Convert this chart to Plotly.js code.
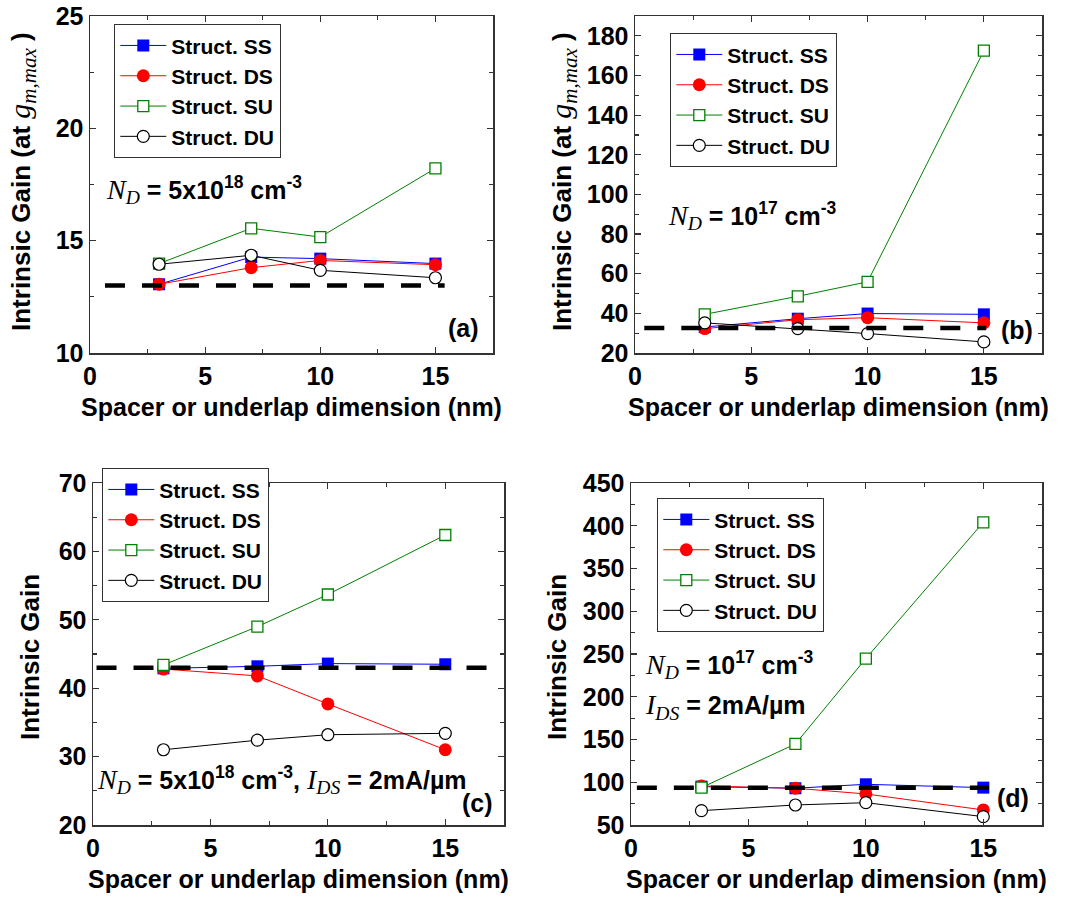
<!DOCTYPE html>
<html>
<head>
<meta charset="utf-8">
<script src="https://cdn.plot.ly/plotly-3.0.1.min.js"></script>
<style>html,body{margin:0;padding:0;background:#fff;}#chart{width:1078px;height:900px;}</style>
</head>
<body>
<div id="chart"></div>
<script>
// ---- data ----
const spacerNm = [3, 7, 10, 15];
const seriesNames = ["Struct. SS", "Struct. DS", "Struct. SU", "Struct. DU"];

// (a) N_D = 5e18, at gm,max
const ssA = [13.06, 14.27, 14.2, 13.98];
const dsA = [13.06, 13.8, 14.12, 13.93];
const suA = [13.98, 15.55, 15.16, 18.22];
const duA = [13.95, 14.35, 13.68, 13.35];
const refA = 13.0;
const refSpanA = [0.65, 15.4];

// (b) N_D = 1e17, at gm,max
const ssB = [33.1, 37.3, 39.9, 39.5];
const dsB = [32.3, 36.8, 37.8, 35.2];
const suB = [39.5, 48.6, 55.9, 172.5];
const duB = [35.2, 32.3, 29.8, 25.6];
const refB = 32.6;
const refSpanB = [0.4, 15.1];

// (c) N_D = 5e18, I_DS = 2mA/um
const ssC = [42.9, 43.2, 43.6, 43.5];
const dsC = [42.8, 41.8, 37.7, 31.0];
const suC = [43.4, 49.0, 53.7, 62.4];
const duC = [31.0, 32.4, 33.2, 33.4];
const refC = 43.0;
const refSpanC = [0.15, 17.0];

// (d) N_D = 1e17, I_DS = 2mA/um
const ssD = [94.9, 93.0, 97.6, 93.7];
const dsD = [95.7, 93.0, 86.3, 67.6];
const suD = [93.7, 144.8, 244.7, 404];
const duD = [66.8, 73.4, 76.1, 59.8];
const refD = 93.7;
const refSpanD = [0.25, 15.25];

const xTicks = [0, 5, 10, 15];
const panelLabels = ["(a)", "(b)", "(c)", "(d)"];
const xTitle = "Spacer or underlap dimension (nm)";

// ---- styles ----
const FONT = "Liberation Sans, Arial, sans-serif";
const SERIF = "Liberation Serif";
const styles = [
  {line: "#0000ff", marker: {symbol: "square", size: 12, color: "#0000ff", line: {width: 0}}},
  {line: "#ff0000", marker: {symbol: "circle", size: 13, color: "#ff0000", line: {width: 0}}},
  {line: "#008000", marker: {symbol: "square", size: 11, color: "#ffffff", line: {width: 1.3, color: "#008000"}}},
  {line: "#000000", marker: {symbol: "circle", size: 12, color: "#ffffff", line: {width: 1.2, color: "#000000"}}}
];

const panels = [
  {sets: [ssA, dsA, suA, duA], ref: refA, span: refSpanA, xa: "x", ya: "y", lg: "legend"},
  {sets: [ssB, dsB, suB, duB], ref: refB, span: refSpanB, xa: "x2", ya: "y2", lg: "legend2"},
  {sets: [ssC, dsC, suC, duC], ref: refC, span: refSpanC, xa: "x3", ya: "y3", lg: "legend3"},
  {sets: [ssD, dsD, suD, duD], ref: refD, span: refSpanD, xa: "x4", ya: "y4", lg: "legend4"}
];

const traces = [];
panels.forEach(p => {
  p.sets.forEach((vals, i) => {
    traces.push({
      type: "scatter", mode: "lines+markers",
      x: spacerNm, y: vals, name: seriesNames[i],
      xaxis: p.xa, yaxis: p.ya, legend: p.lg,
      line: {color: styles[i].line, width: 1},
      marker: styles[i].marker,
      cliponaxis: false
    });
  });
  traces.push({
    type: "scatter", mode: "lines",
    x: p.span, y: [p.ref, p.ref],
    xaxis: p.xa, yaxis: p.ya, showlegend: false,
    line: {color: "#000000", width: 4.5, dash: "20px,17px"},
    hoverinfo: "skip"
  });
});

const W = 1078, H = 900;
function dx(a, b) { return [a / W, b / W]; }
function dy(top, bottom) { return [1 - bottom / H, 1 - top / H]; }

const gmTitle = "Intrinsic Gain (at <span style=\"font-family:'" + SERIF + "';font-weight:normal;font-style:italic;font-size:30px\">g<sub>m,max</sub></span> )";
const plainTitle = "Intrinsic Gain";

function xAxis(domain, anchor) {
  return {
    domain: domain, anchor: anchor, range: [0, 17.5],
    tickvals: xTicks, ticks: "inside", ticklen: 6, tickwidth: 1.2, tickcolor: "#333",
    minor: {dtick: 2.5, tick0: 0, ticks: "inside", ticklen: 4, tickwidth: 1.2, tickcolor: "#333"},
    showline: true, linecolor: "#333", linewidth: 1.5, mirror: "allticks",
    showgrid: false, zeroline: false,
    tickfont: {family: FONT, size: 25, color: "#000", weight: "bold"},
    title: {text: xTitle, font: {family: FONT, size: 25, color: "#000", weight: "bold"}, standoff: 10}
  };
}
function yAxis(domain, anchor, range, dtick, minor) {
  return {
    domain: domain, anchor: anchor, range: range, dtick: dtick, tick0: range[0],
    ticks: "inside", ticklen: 6, tickwidth: 1.2, tickcolor: "#333",
    minor: {dtick: minor, ticks: "inside", ticklen: 4, tickwidth: 1.2, tickcolor: "#333"},
    showline: true, linecolor: "#333", linewidth: 1.5, mirror: "allticks",
    showgrid: false, zeroline: false,
    tickfont: {family: FONT, size: 25, color: "#000", weight: "bold"}
  };
}
function legendAt(xPx, yPx) {
  return {
    x: xPx / W, y: 1 - yPx / H, xanchor: "left", yanchor: "top",
    bgcolor: "#ffffff", bordercolor: "#333", borderwidth: 1.3,
    font: {family: FONT, size: 21, color: "#000", weight: "bold"},
    itemwidth: 46, tracegroupgap: 0
  };
}
const nItal = (t, sub) => "<span style=\"font-family:'" + SERIF + "';font-weight:normal;font-style:italic;font-size:28px\">" + t + "<sub>" + sub + "</sub></span>";

function ann(text, xPx, yPx, xanchor) {
  return {text: text, xref: "paper", yref: "paper", x: xPx / W, y: 1 - yPx / H,
    xanchor: xanchor || "left", yanchor: "middle", showarrow: false,
    font: {family: FONT, size: 25, color: "#000", weight: "bold"}};
}
function yTitle(text, xPx, yPx) {
  const a = ann(text, xPx, yPx, "center");
  a.textangle = -90;
  a.font = {family: FONT, size: 26, color: "#000", weight: "bold"};
  return a;
}

const layout = {
  width: W, height: H, margin: {l: 0, r: 0, t: 0, b: 0},
  paper_bgcolor: "#fff", plot_bgcolor: "#fff", showlegend: true,
  xaxis: xAxis(dx(90, 493), "y"),
  yaxis: yAxis(dy(16, 353), "x", [10, 25], 5, 2.5),
  xaxis2: xAxis(dx(635, 1042), "y2"),
  yaxis2: yAxis(dy(16, 353), "x2", [20, 190], 20, 10),
  xaxis3: xAxis(dx(93, 504), "y3"),
  yaxis3: yAxis(dy(483, 825), "x3", [20, 70], 10, 5),
  xaxis4: xAxis(dx(631, 1042), "y4"),
  yaxis4: yAxis(dy(483, 825), "x4", [50, 450], 50, 25),
  legend: legendAt(114, 24),
  legend2: legendAt(670, 33),
  legend3: legendAt(102, 468),
  legend4: legendAt(657, 498),
  annotations: [
    yTitle(gmTitle, 22, 182),
    yTitle(gmTitle, 563, 182),
    yTitle(plainTitle, 30, 657),
    yTitle(plainTitle, 557, 657),
    ann(nItal("N", "D") + " = 5x10<sup>18</sup> cm<sup>-3</sup>", 104, 190),
    ann(nItal("N", "D") + " = 10<sup>17</sup> cm<sup>-3</sup>", 666, 216),
    ann(nItal("N", "D") + " = 5x10<sup>18</sup> cm<sup>-3</sup>, " + nItal("I", "DS") + " = 2mA/µm", 95, 780),
    ann(nItal("N", "D") + " = 10<sup>17</sup> cm<sup>-3</sup>", 643, 665),
    ann(nItal("I", "DS") + " = 2mA/µm", 643, 706),
    ann(panelLabels[0], 463, 328, "center"),
    ann(panelLabels[1], 1017, 330, "center"),
    ann(panelLabels[2], 477, 803, "center"),
    ann(panelLabels[3], 1013, 798, "center")
  ]
};

Plotly.newPlot("chart", traces, layout, {staticPlot: true, displayModeBar: false});
</script>
</body>
</html>
